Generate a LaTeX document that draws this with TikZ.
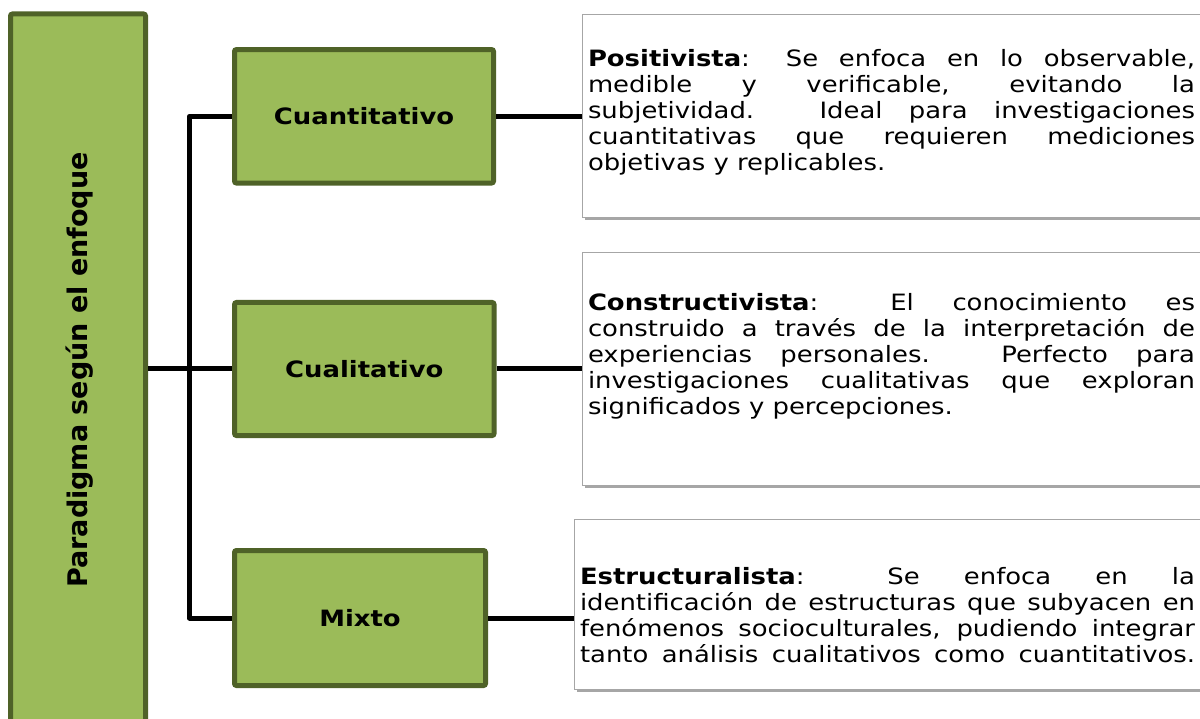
\documentclass[tikz,border=0pt]{standalone}
\usepackage{fontspec}
\setmainfont{DejaVu Sans}[FakeStretch=1.15]
\newfontfamily\rotfont{DejaVu Sans}
\usetikzlibrary{shadows}
\definecolor{gfill}{HTML}{9BBB59}
\definecolor{gdraw}{HTML}{4F6228}
\definecolor{tboxline}{HTML}{A6A6A6}
\begin{document}
\hyphenpenalty=10000
\exhyphenpenalty=10000
\begin{tikzpicture}[x=1pt,y=-1pt,
  greenbox/.style={draw=gdraw, fill=gfill, line width=5pt, rounded corners=2pt, inner sep=0pt,
    font=\fontsize{22.5}{26}\selectfont\bfseries},
  textbox/.style={draw=tboxline, fill=white, line width=1pt, inner sep=0pt,
    drop shadow={shadow xshift=2.5pt, shadow yshift=-2.5pt, fill=black, opacity=0.35}},
  desc/.style={text width=#1, align=justify, inner sep=0pt,
    font=\fontsize{22.5}{26}\selectfont},
  conn/.style={line width=5pt, line join=round, draw=black}
]
\useasboundingbox (0,0) rectangle (1200,719);

% root
\node[greenbox, minimum width=135pt, minimum height=716pt] (root) at (78,372) {};
\node[rotate=90, font=\rotfont\fontsize{27}{31}\selectfont\bfseries, inner sep=0pt] (roottxt) at (80,370) {Paradigma según el enfoque};

% categories
\node[greenbox, minimum width=259pt, minimum height=133.5pt] (cuan) at (364,116.3) {Cuantitativo};
\node[greenbox, minimum width=259.5pt, minimum height=133pt] (cual) at (364.3,369) {Cualitativo};
\node[greenbox, minimum width=251pt, minimum height=135pt] (mix) at (360,618) {Mixto};

% description boxes
\node[textbox, minimum width=628pt, minimum height=203pt] (b1) at (896,116.5) {};
\node[textbox, minimum width=628pt, minimum height=232pt] (b2) at (896,369) {};
\node[textbox, minimum width=636pt, minimum height=170pt] (b3) at (892,604) {};

\node[desc=607pt] (t1) at (891.5,112) {\textbf{Positivista}: Se enfoca en lo observable,\linebreak medible y verificable, evitando la\linebreak subjetividad. Ideal para investigaciones\linebreak cuantitativas que requieren mediciones\linebreak objetivas y replicables.};
\node[desc=607pt] (t2) at (891.5,356) {\textbf{Constructivista}: El conocimiento es\linebreak construido a través de la interpretación de\linebreak experiencias personales. Perfecto para\linebreak investigaciones cualitativas que exploran\linebreak significados y percepciones.};
\node[desc=615pt] (t3) at (887.5,615) {\textbf{Estructuralista}: Se enfoca en la\linebreak identificación de estructuras que subyacen en\linebreak fenómenos socioculturales, pudiendo integrar\linebreak \makebox[\linewidth][s]{tanto análisis cualitativos como cuantitativos.}};

% connectors
\draw[conn] (cuan.west) -- ++(-42.5,0) coordinate (tk1) |- (mix.west);
\draw[conn] (root.east |- cual.west) -- (cual.west);
\draw[conn] (cuan.east) -- (cuan.east -| b1.west);
\draw[conn] (cual.east) -- (cual.east -| b2.west);
\draw[conn] (mix.east) -- (mix.east -| b3.west);
\end{tikzpicture}
\end{document}
